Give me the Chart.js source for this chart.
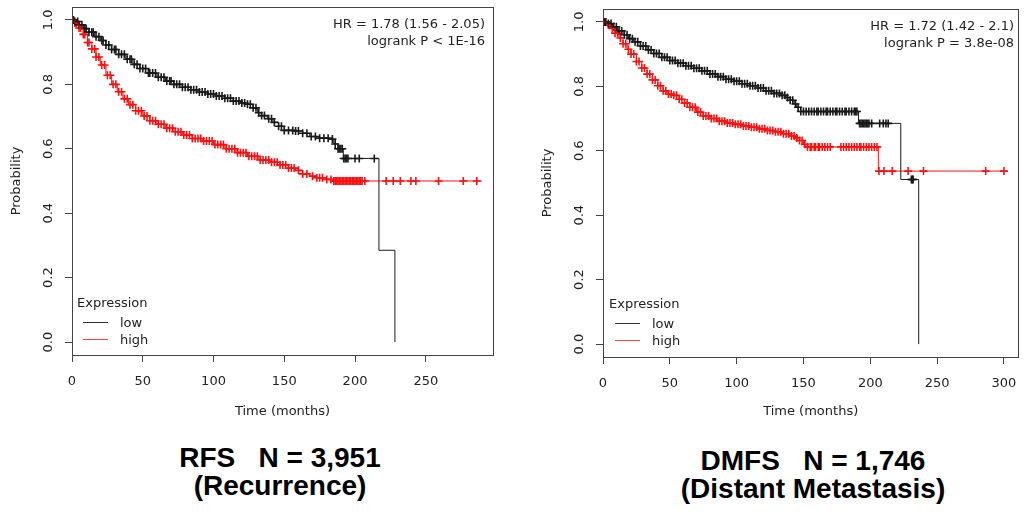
<!DOCTYPE html>
<html>
<head>
<meta charset="utf-8">
<script src="https://cdn.jsdelivr.net/npm/chart.js@4.4.1/dist/chart.umd.min.js"></script>
<style>
  body { margin: 0; background: #fff; }
  #page { position: relative; width: 1024px; height: 518px; overflow: hidden; font-family: "DejaVu Sans", sans-serif; color: #222; }
  canvas { position: absolute; top: 0; }
  .hr { position: absolute; font-size: 13px; text-align: right; line-height: 17px; white-space: pre; }
  .leg { position: absolute; font-size: 13px; line-height: 17px; }
  .leg .row { position: relative; height: 17px; }
  .leg .ln { position: absolute; top: 8px; width: 25px; height: 0; border-top: 1px solid; }
  .leg .tx { position: absolute; left: 43px; }
  .title { position: absolute; width: 400px; text-align: center; font: bold 28px "Liberation Sans", Arial, sans-serif; line-height: 28px; color: #000; white-space: pre; }
</style>
</head>
<body>
<div id="page">
  <canvas id="chrRFS" width="512" height="430" style="left:0px"></canvas>
  <canvas id="chrDMFS" width="493" height="430" style="left:531px"></canvas>

  <div class="hr" style="right:539px; top:15px">HR = 1.78 (1.56 - 2.05)
logrank P &lt; 1E-16</div>
  <div class="hr" style="right:10px; top:17px">HR = 1.72 (1.42 - 2.1)
logrank P = 3.8e-08</div>

  <div class="leg" style="left:77px; top:294px">
    <div>Expression</div>
    <div class="row" style="margin-top:3px"><span class="ln" style="left:6px;border-color:#333"></span><span class="tx">low</span></div>
    <div class="row"><span class="ln" style="left:6px;border-color:#f44"></span><span class="tx">high</span></div>
  </div>
  <div class="leg" style="left:609px; top:295px">
    <div>Expression</div>
    <div class="row" style="margin-top:3px"><span class="ln" style="left:6px;border-color:#333"></span><span class="tx">low</span></div>
    <div class="row"><span class="ln" style="left:6px;border-color:#f44"></span><span class="tx">high</span></div>
  </div>

  <div class="title" style="left:80px; top:444px">RFS   N = 3,951
(Recurrence)</div>
  <div class="title" style="left:613px; top:447px">DMFS   N = 1,746
(Distant Metastasis)</div>
</div>

<script>
// ---- RFS (recurrence), months / probability
const rfsLowT  = [0, 2, 5, 8, 12, 16, 20, 24, 28, 33, 38, 43, 48, 54, 60, 66, 72, 78, 84, 90, 96, 102, 108, 114, 119, 124, 128, 131, 134, 138, 142, 146, 150, 158, 163, 168, 175, 182, 185, 188, 191.7, 216.9, 228.2];
const rfsLowS  = [1.0, 0.995, 0.985, 0.973, 0.962, 0.948, 0.936, 0.922, 0.908, 0.893, 0.878, 0.862, 0.849, 0.835, 0.822, 0.810, 0.800, 0.791, 0.783, 0.776, 0.770, 0.764, 0.757, 0.748, 0.742, 0.738, 0.727, 0.712, 0.703, 0.693, 0.682, 0.670, 0.657, 0.655, 0.648, 0.638, 0.633, 0.630, 0.615, 0.600, 0.570, 0.285, 0];
const rfsHighT = [0, 2, 5, 8, 11, 14, 17, 20, 24, 28, 32, 36, 40, 45, 50, 55, 60, 66, 72, 78, 85, 92, 100, 108, 116, 124, 132, 140, 147, 153, 158, 163, 168, 173, 179, 184.6, 289.5];
const rfsHighS = [1.0, 0.99, 0.975, 0.955, 0.93, 0.91, 0.885, 0.86, 0.828, 0.80, 0.777, 0.755, 0.737, 0.718, 0.702, 0.687, 0.676, 0.664, 0.653, 0.643, 0.632, 0.624, 0.613, 0.600, 0.588, 0.577, 0.565, 0.558, 0.550, 0.540, 0.533, 0.522, 0.515, 0.510, 0.505, 0.500, 0.500];
const rfsLowCens = [1,2,4,5,7,9,10,12,14,15,17,19,21,22,24,26,28,30,31,33,35,37,39,41,42,44,46,48,50,52,54,55,57,59,61,63,65,67,69,70,72,74,76,78,80,82,84,86,88,90,92,94,96,98,100,102,104,106,108,110,112,114,116,118,120,122,124,126,128,130,132,134,136,139,141,143,146,148,150,153,156,158,160,163,166,169,172,175,178,181,184,186,188,189,190,191,192,193,194,195,200,203,213.6];
const rfsHighCens = [1,2,3,5,6,8,9,11,12,14,16,17,19,21,23,25,27,29,31,33,35,37,39,41,43,45,47,49,51,53,55,57,59,61,63,65,67,69,71,73,75,77,79,81,83,85,87,89,91,93,95,97,99,101,103,105,107,109,111,113,115,117,119,121,123,125,127,129,131,133,135,137,139,141,143,145,147,149,151,153,155,157,160,163,166,170,173,175,177,180,183,185,186,187,188,189,190,191,192,193,194,195,196,197,198,199,200,201,202,203,204,205,207,222,227,232,239.5,243,259,276.5,286];
const rfsXTicks = [0, 50, 100, 150, 200, 250];

// ---- DMFS (distant metastasis)
const dmfsLowT  = [0, 3, 7, 11, 15, 19, 23, 28, 33, 38, 44, 50, 56, 62, 68, 74, 80, 86, 92, 98, 104, 110, 116, 122, 128, 133, 137, 140, 143, 145, 147.9, 191.2, 222.8, 236.2];
const dmfsLowS  = [1.0, 0.995, 0.985, 0.972, 0.96, 0.948, 0.938, 0.925, 0.913, 0.902, 0.89, 0.88, 0.872, 0.864, 0.856, 0.848, 0.838, 0.83, 0.822, 0.816, 0.808, 0.802, 0.795, 0.786, 0.778, 0.772, 0.765, 0.757, 0.745, 0.735, 0.722, 0.685, 0.511, 0];
const dmfsHighT = [0, 3, 6, 9, 12, 15, 18, 21, 25, 29, 33, 37, 41, 45, 48, 53, 57, 61, 65, 70, 75, 80, 86, 92, 98, 104, 110, 116, 122, 128, 134, 140, 144, 147, 150, 152.8, 206, 302.4];
const dmfsHighS = [1.0, 0.99, 0.98, 0.965, 0.95, 0.932, 0.915, 0.9, 0.877, 0.857, 0.838, 0.82, 0.802, 0.786, 0.776, 0.772, 0.76, 0.748, 0.735, 0.72, 0.708, 0.700, 0.692, 0.686, 0.682, 0.677, 0.673, 0.668, 0.663, 0.659, 0.653, 0.646, 0.64, 0.632, 0.62, 0.612, 0.537, 0.537];
const dmfsLowCens = [1,2,4,6,8,10,12,14,16,18,20,22,24,26,28,30,32,34,36,38,40,42,44,46,48,50,52,54,56,58,60,62,64,66,68,70,72,74,76,78,80,82,84,86,88,90,92,94,96,98,100,102,104,106,108,110,112,114,116,118,120,122,124,126,128,130,132,134,136,138,140,142,144,146,148,150,152,154,156,158,160,161,163,165,167,168,170,172,174,175,177,179,181,182,184,186,188,189,190,192,193,194,195,196,197,198,199,201,207,209.7,211.7,213.4,230.7,231.5,232];
const dmfsHighCens = [1,2,4,5,7,9,11,13,15,17,19,21,23,25,27,29,31,33,35,37,39,41,43,45,47,49,51,53,55,57,59,61,63,65,67,69,71,73,75,77,79,81,83,85,87,89,91,93,95,97,99,101,103,105,107,109,111,113,115,117,119,121,123,125,127,129,131,133,135,137,139,141,143,145,147,149,151,153,155,156,158,159,161,162,164,166,168,170,178,180,182,184,186,188,190,192,193,195,197,199,201,203,205,206.5,210.2,216.4,228.3,239.8,286.3,300];
const dmfsXTicks = [0, 50, 100, 150, 200, 250, 300];

const yTicks = [0, 0.2, 0.4, 0.6, 0.8, 1.0];

const colLow = '#1a1a1a';
const colHigh = '#ff1010';
const axisCol = '#444';

Chart.defaults.font.family = "'DejaVu Sans', sans-serif";
Chart.defaults.font.size = 13;
Chart.defaults.color = '#222';

// KM value at time t (last step at or before t)
survAt = (T, S, t) => {
    let v = S[0];
    for (let i = 0; i < T.length; i++) { if (T[i] <= t) v = S[i]; }
    return v;
};

toPts = (T, S) => T.map((t, i) => ({x: t, y: S[i]}));
censPts = (C, T, S) => C.map(t => ({x: t, y: survAt(T, S, t)}));

// outer box round the plot area
const boxPlugin = {
    id: 'box',
    afterDraw: (chart) => {
        const a = chart.chartArea, ctx = chart.ctx;
        ctx.save();
        ctx.strokeStyle = axisCol;
        ctx.lineWidth = 1;
        ctx.strokeRect(Math.round(a.left) + 0.5, Math.round(a.top) + 0.5, Math.round(a.right - a.left), Math.round(a.bottom - a.top));
        ctx.restore();
    }
};

makeKM = (id, d) => {
    const ctx = document.getElementById(id).getContext('2d');
    return new Chart(ctx, {
        type: 'scatter',
        data: {
            datasets: [
                {label: 'low', data: toPts(d.lowT, d.lowS), showLine: true, stepped: true, borderColor: colLow, borderWidth: 1, pointRadius: 0},
                {label: 'high', data: toPts(d.highT, d.highS), showLine: true, stepped: true, borderColor: colHigh, borderWidth: 1, pointRadius: 0},
                {label: 'low cens', data: censPts(d.lowC, d.lowT, d.lowS), showLine: false, pointStyle: 'cross', pointRadius: 4, borderColor: colLow, borderWidth: 1.6},
                {label: 'high cens', data: censPts(d.highC, d.highT, d.highS), showLine: false, pointStyle: 'cross', pointRadius: 4, borderColor: colHigh, borderWidth: 1.6}
            ]
        },
        options: {
            responsive: false,
            animation: false,
            events: [],
            layout: {padding: d.pad},
            plugins: {legend: {display: false}, tooltip: {enabled: false}},
            scales: {
                x: {
                    type: 'linear', min: 0, max: d.xMax,
                    afterFit: (s) => { s.height = d.xH; s.paddingLeft = 0; s.paddingRight = 0; },
                    afterBuildTicks: (s) => { s.ticks = d.xTicks.map(v => ({value: v})); },
                    ticks: {padding: 12, maxRotation: 0},
                    grid: {drawOnChartArea: false, tickLength: 7, color: axisCol},
                    border: {display: true, color: axisCol},
                    title: {display: true, text: 'Time (months)', padding: {top: 0, bottom: 11}}
                },
                y: {
                    type: 'linear', min: -0.04, max: 1.04,
                    afterFit: (s) => { s.width = 72; s.paddingTop = 0; s.paddingBottom = 0; },
                    afterBuildTicks: (s) => { s.ticks = yTicks.map(v => ({value: v})); },
                    ticks: {callback: (v) => v.toFixed(1), minRotation: 90, maxRotation: 90, crossAlign: 'center', padding: 6},
                    grid: {drawOnChartArea: false, tickLength: 7, color: axisCol},
                    border: {display: true, color: axisCol},
                    title: {display: true, text: 'Probability', padding: {top: 9, bottom: 0}}
                }
            }
        },
        plugins: [boxPlugin]
    });
};

makeKM('chrRFS', {
    lowT: rfsLowT, lowS: rfsLowS, highT: rfsHighT, highS: rfsHighS,
    lowC: rfsLowCens, highC: rfsHighCens, xTicks: rfsXTicks,
    xMax: 297.5, xH: 75, pad: {left: 0, right: 19, top: 7, bottom: 0}
});

makeKM('chrDMFS', {
    lowT: dmfsLowT, lowS: dmfsLowS, highT: dmfsHighT, highS: dmfsHighS,
    lowC: dmfsLowCens, highC: dmfsHighCens, xTicks: dmfsXTicks,
    xMax: 310.8, xH: 73, pad: {left: 0, right: 1, top: 9, bottom: 0}
});
</script>
</body>
</html>
